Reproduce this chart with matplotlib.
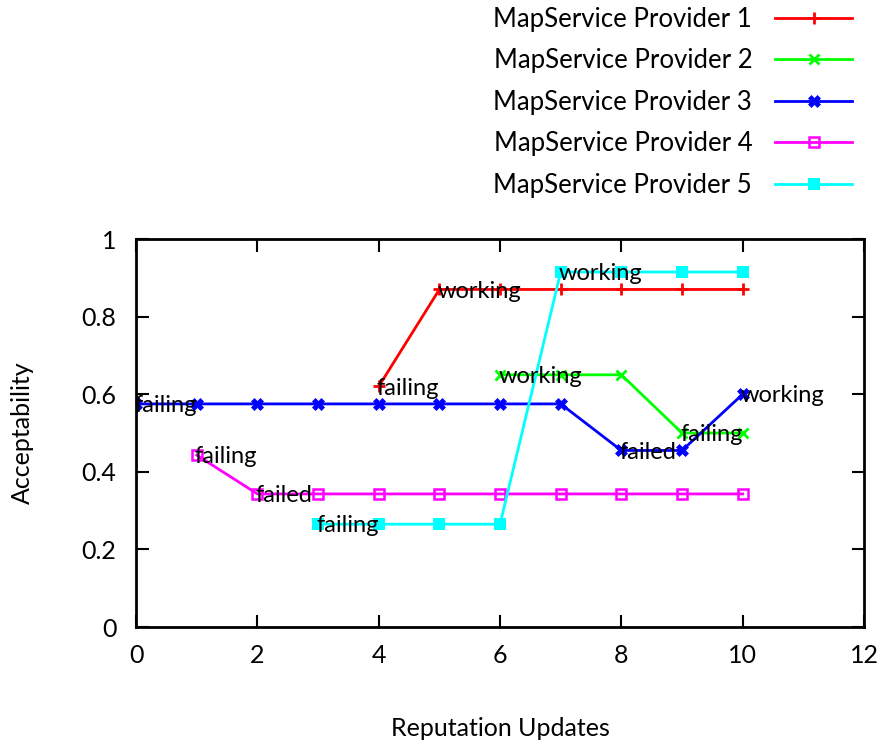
import matplotlib
matplotlib.use("Agg")
import matplotlib.pyplot as plt

plt.rcParams['font.family'] = ['Lato', 'DejaVu Sans']

# Reputation updates (x) and acceptability values per provider
p1_x = [4, 5, 6, 7, 8, 9, 10]
p1_y = [0.62, 0.87, 0.87, 0.87, 0.87, 0.87, 0.87]

p2_x = [6, 7, 8, 9, 10]
p2_y = [0.65, 0.65, 0.65, 0.50, 0.50]

p3_x = [0, 1, 2, 3, 4, 5, 6, 7, 8, 9, 10]
p3_y = [0.575, 0.575, 0.575, 0.575, 0.575, 0.575, 0.575, 0.575, 0.455, 0.455, 0.60]

p4_x = [1, 2, 3, 4, 5, 6, 7, 8, 9, 10]
p4_y = [0.443, 0.343, 0.343, 0.343, 0.343, 0.343, 0.343, 0.343, 0.343, 0.343]

p5_x = [3, 4, 5, 6, 7, 8, 9, 10]
p5_y = [0.265, 0.265, 0.265, 0.265, 0.915, 0.915, 0.915, 0.915]

series_names = ["MapService Provider 1", "MapService Provider 2", "MapService Provider 3",
                "MapService Provider 4", "MapService Provider 5"]

# State annotations: (provider index, x position, text)
annotations = [
    (3, 0, "failing"),
    (4, 1, "failing"),
    (4, 2, "failed"),
    (5, 3, "failing"),
    (1, 4, "failing"),
    (1, 5, "working"),
    (2, 6, "working"),
    (5, 7, "working"),
    (3, 8, "failed"),
    (2, 9, "failing"),
    (3, 10, "working"),
]

xticks = [0, 2, 4, 6, 8, 10, 12]
yticks = [0, 0.2, 0.4, 0.6, 0.8, 1]
ytick_labels = ["0", "0.2", "0.4", "0.6", "0.8", "1"]

fig = plt.figure(figsize=(8.88, 7.4), dpi=100)
ax = fig.add_axes([0.1532, 0.1527, 0.8198, 0.5243])

series = [
    (p1_x, p1_y, "#ff0000", dict(marker="+", markersize=9, markeredgewidth=2)),
    (p2_x, p2_y, "#00ff00", dict(marker="x", markersize=7, markeredgewidth=2)),
    (p3_x, p3_y, "#0000ff", dict(marker="X", markersize=8, markeredgewidth=0.5)),
    (p4_x, p4_y, "#ff00ff", dict(marker="s", markersize=7, markerfacecolor="none",
                                 markeredgewidth=1.8)),
    (p5_x, p5_y, "#00ffff", dict(marker="s", markersize=8, markeredgewidth=0)),
]

data_by_idx = {}
for i, ((xs, ys, color, mk), name) in enumerate(zip(series, series_names), start=1):
    ax.plot(xs, ys, color=color, linewidth=2.0, label=name, **mk)
    data_by_idx[i] = dict(zip(xs, ys))

for idx, x, text in annotations:
    y = data_by_idx[idx][x]
    ax.text(x - 0.03, y - 0.004, text, ha="left", va="center", fontsize=17, color="black")

ax.set_xlim(0, 12)
ax.set_ylim(0, 1)
ax.set_xticks(xticks)
ax.set_yticks(yticks)
ax.set_yticklabels(ytick_labels)
ax.tick_params(direction="in", length=9, width=1.5, top=True, right=True,
               labelsize=18)
ax.tick_params(axis="x", pad=12)
ax.tick_params(axis="y", pad=14)
for s in ax.spines.values():
    s.set_linewidth(2)

ax.set_xlabel("Reputation Updates", fontsize=18, labelpad=36)
ax.set_ylabel("Acceptability", fontsize=18, labelpad=34)

fig.legend(loc="upper right", bbox_to_anchor=(0.986, 1.022), frameon=False,
           markerfirst=False, fontsize=18.5, handlelength=3.0, labelspacing=0.64,
           handletextpad=0.9)

fig.savefig("out.png", dpi=100)
